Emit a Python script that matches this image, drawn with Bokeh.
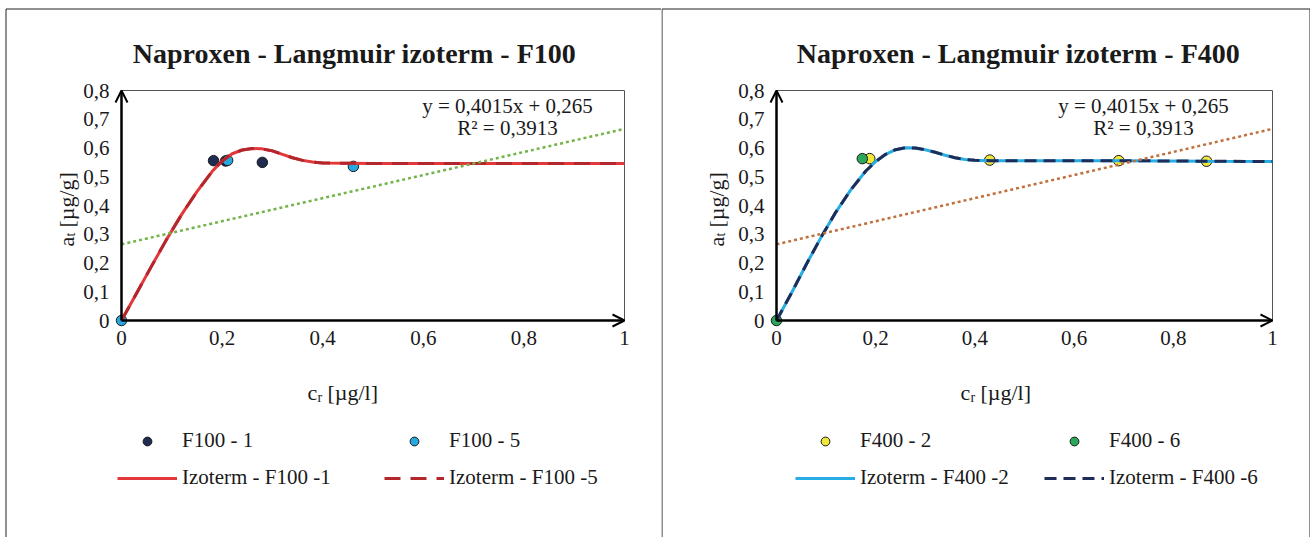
import math
from bokeh.plotting import figure
from bokeh.layouts import row
from bokeh.models import (Range1d, Label, Arrow, OpenHead, Legend, LegendItem,
                          BoxAnnotation)
from bokeh.core.properties import value
from bokeh.embed import file_html
from bokeh.resources import INLINE

FONT = "Liberation Serif"
TXT = "#1a1a1a"

# ---------------- data ----------------
x_ticks = [0, 0.2, 0.4, 0.6, 0.8, 1]
x_tick_labels = ["0", "0,2", "0,4", "0,6", "0,8", "1"]
y_ticks = [0, 0.1, 0.2, 0.3, 0.4, 0.5, 0.6, 0.7, 0.8]
y_tick_labels = ["0", "0,1", "0,2", "0,3", "0,4", "0,5", "0,6", "0,7", "0,8"]

# F100 panel
f100_1_x = [0.183, 0.207, 0.280]
f100_1_y = [0.556, 0.555, 0.550]
f100_5_x = [0.0, 0.211, 0.461]
f100_5_y = [0.0, 0.557, 0.536]
iso_f100_x = [0, 0.03, 0.06, 0.09, 0.12, 0.15, 0.18, 0.20, 0.22, 0.24, 0.26, 0.28,
              0.30, 0.32, 0.34, 0.36, 0.38, 0.40, 0.45, 0.50, 0.60, 0.80, 1.00]
iso_f100_1_y = [0, 0.095, 0.19, 0.283, 0.370, 0.448, 0.518, 0.555, 0.580, 0.593, 0.598, 0.597,
                0.590, 0.578, 0.566, 0.557, 0.551, 0.548, 0.547, 0.546, 0.546, 0.546, 0.546]
iso_f100_5_y = [0, 0.095, 0.19, 0.283, 0.370, 0.448, 0.518, 0.555, 0.580, 0.593, 0.598, 0.597,
                0.590, 0.578, 0.566, 0.557, 0.551, 0.548, 0.547, 0.546, 0.546, 0.546, 0.546]
trend_x = [0, 1]
trend_f100_y = [0.265, 0.6665]

# F400 panel
f400_2_x = [0.188, 0.430, 0.690, 0.867]
f400_2_y = [0.563, 0.558, 0.556, 0.554]
f400_6_x = [0.0, 0.173]
f400_6_y = [0.0, 0.563]
iso_f400_x = [0, 0.03, 0.06, 0.09, 0.12, 0.15, 0.18, 0.20, 0.22, 0.24, 0.26, 0.28,
              0.30, 0.32, 0.34, 0.36, 0.38, 0.40, 0.43, 0.50, 0.69, 0.867, 1.0]
iso_f400_2_y = [0, 0.095, 0.195, 0.29, 0.378, 0.455, 0.52, 0.553, 0.578, 0.594, 0.601, 0.600,
                0.594, 0.585, 0.575, 0.566, 0.560, 0.557, 0.556, 0.556, 0.556, 0.554, 0.553]
iso_f400_6_y = [0, 0.095, 0.195, 0.29, 0.378, 0.455, 0.52, 0.553, 0.578, 0.594, 0.601, 0.600,
                0.594, 0.585, 0.575, 0.566, 0.560, 0.557, 0.556, 0.556, 0.556, 0.554, 0.553]
trend_f400_y = [0.265, 0.6665]

equation_text = "y = 0,4015x + 0,265"
r2_text = "R² = 0,3913"

H = 537


def make_panel(cfg):
    W = cfg["width"]
    fl = cfg["left"]
    x0p, x1p = cfg["x0p"], cfg["x1p"]
    y0p, y8p = 320, 90
    kx = (x1p - x0p) / x_ticks[-1]
    ky = (y0p - y8p) / y_ticks[-1]

    def dx(xp):
        return (xp - x0p) / kx

    def dy(yp):
        return (y0p - yp) / ky

    xr = Range1d(dx(fl), dx(fl + W))
    yr = Range1d(dy(H), dy(0))

    p = figure(width=W, height=H, x_range=xr, y_range=yr, output_backend="svg",
               toolbar_location=None, x_axis_location=None, y_axis_location=None,
               min_border=0, min_border_left=0, min_border_right=0, min_border_top=0,
               min_border_bottom=0)
    p.grid.visible = False
    p.outline_line_color = None
    p.background_fill_color = "white"
    p.border_fill_color = "white"

    # tick labels
    p.text(x=x_ticks, y=[y_ticks[0]] * len(x_ticks), text=x_tick_labels,
           text_font=value(FONT), text_font_size="21px", text_color=TXT,
           text_align="center", text_baseline="middle", y_offset=17)
    p.text(x=[x_ticks[0]] * len(y_ticks), y=y_ticks, text=y_tick_labels,
           text_font=value(FONT), text_font_size="21px", text_color=TXT,
           text_align="right", text_baseline="middle", x_offset=-12)

    # thin plot-area frame
    p.quad(left=[x_ticks[0]], right=[x_ticks[-1]], bottom=[y_ticks[0]], top=[y_ticks[-1]],
           fill_alpha=0, line_color="#555555", line_width=1)

    s1 = p.scatter(cfg["s1x"], cfg["s1y"], size=10.5, fill_color=cfg["s1c"],
                   line_color="#1a1a1a", line_width=1)
    s2 = p.scatter(cfg["s2x"], cfg["s2y"], size=10.5, fill_color=cfg["s2c"],
                   line_color="#1a1a1a", line_width=1)
    l1 = p.line(cfg["isox"], cfg["iso1y"], line_width=3, line_color=cfg["l1c"])
    l2 = p.line(cfg["isox"], cfg["iso2y"], line_width=3, line_color=cfg["l2c"],
                line_dash=cfg["l2dash"])
    p.line(trend_x, cfg["trendy"], line_width=2.5, line_color=cfg["trendc"], line_dash="3 3")

    head = OpenHead(size=12, line_width=2, line_color="black")
    p.add_layout(Arrow(end=head, x_start=0, y_start=0, x_end=0, y_end=y_ticks[-1],
                       line_width=2.5, line_color="black"))
    head2 = OpenHead(size=12, line_width=2, line_color="black")
    p.add_layout(Arrow(end=head2, x_start=0, y_start=0, x_end=x_ticks[-1], y_end=0,
                       line_width=2.5, line_color="black"))

    # panel border
    p.add_layout(BoxAnnotation(left=dx(cfg["bl"]), right=dx(cfg["br"]), top=dy(8.5),
                               bottom=dy(H + 30), fill_alpha=0, line_color="#222222",
                               line_alpha=1.0, line_width=1))

    def lab(xp, yp, text, size="21px", align="left", style="normal", angle=0,
            baseline="middle"):
        p.add_layout(Label(x=dx(xp), y=dy(yp), text=text, text_font=FONT,
                           text_font_size=size, text_color=TXT, text_align=align,
                           text_baseline=baseline, text_font_style=style, angle=angle))

    lab(cfg["title_x"], 53, cfg["title"], size="28px", align="center", style="bold")
    lab(cfg["eq_x"], 105, equation_text, align="center")
    lab(cfg["eq_x"], 127, r2_text, align="center")

    # y-axis title (rotated), a_t [µg/g]
    yx, yb = cfg["ytitle_x"], 246
    lab(yx, yb, "a", size="22px", angle=math.pi / 2)
    lab(yx + 4, yb - 10, "t", size="14px", angle=math.pi / 2)
    lab(yx, yb - 19, "[µg/g]", size="22px", angle=math.pi / 2)
    # x-axis title c_r [µg/l]
    xx, xm = cfg["xtitle_x"], 392
    lab(xx, xm, "c", size="22px")
    lab(xx + 10, xm + 5, "r", size="14px")
    lab(xx + 20, xm, "[µg/l]", size="22px")

    # legend
    gh, sp = 22, 12
    leg_h = gh * 2 + sp
    leg_top = 434
    legend = Legend(items=[LegendItem(label=cfg["n1"], renderers=[s1]),
                           LegendItem(label=cfg["n2"], renderers=[s2]),
                           LegendItem(label=cfg["n3"], renderers=[l1]),
                           LegendItem(label=cfg["n4"], renderers=[l2])],
                    orientation="horizontal", ncols=2,
                    location=(cfg["leg_x"] - fl, H - leg_top - leg_h),
                    glyph_width=60, glyph_height=gh, label_height=gh,
                    label_width=cfg["leg_lw"], label_standoff=5, spacing=sp,
                    padding=0, margin=0, border_line_color=None,
                    background_fill_alpha=0, label_text_font=FONT,
                    label_text_font_size="21px", label_text_color=TXT)
    p.add_layout(legend, "center")
    return p


left_cfg = dict(width=661, left=0, x0p=121, x1p=624,
                s1x=f100_1_x, s1y=f100_1_y, s1c="#1f2b4f",
                s2x=f100_5_x, s2y=f100_5_y, s2c="#27a7df",
                isox=iso_f100_x, iso1y=iso_f100_1_y, iso2y=iso_f100_5_y,
                l1c="#e3383a", l2c="#b3262c", l2dash="16 10",
                trendy=trend_f100_y, trendc="#72b44a",
                bl=5.5, br=700,
                title="Naproxen - Langmuir izoterm - F100", title_x=354, eq_x=507,
                ytitle_x=66, xtitle_x=307,
                n1="F100 - 1", n2="F100 - 5", n3="Izoterm - F100 -1", n4="Izoterm - F100 -5",
                leg_x=117, leg_lw=190)
right_cfg = dict(width=649, left=661, x0p=776, x1p=1272,
                 s1x=f400_2_x, s1y=f400_2_y, s1c="#efe83a",
                 s2x=f400_6_x, s2y=f400_6_y, s2c="#2ba65a",
                 isox=iso_f400_x, iso1y=iso_f400_2_y, iso2y=iso_f400_6_y,
                 l1c="#27ade4", l2c="#1f2c58", l2dash="12 7",
                 trendy=trend_f400_y, trendc="#c0703c",
                 bl=661.5, br=1309.5,
                 title="Naproxen - Langmuir izoterm - F400", title_x=1018, eq_x=1143,
                 ytitle_x=716, xtitle_x=960,
                 n1="F400 - 2", n2="F400 - 6", n3="Izoterm - F400 -2", n4="Izoterm - F400 -6",
                 leg_x=795, leg_lw=172)

p1 = make_panel(left_cfg)
p2 = make_panel(right_cfg)
layout = row(p1, p2, spacing=0)

open("out.html", "w").write(file_html(layout, INLINE))
